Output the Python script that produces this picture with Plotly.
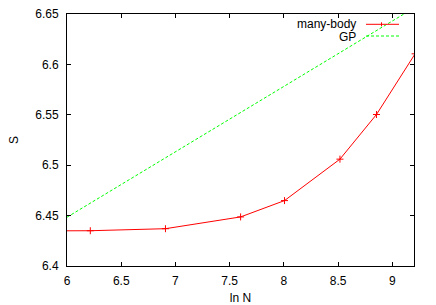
import plotly.graph_objects as go

# many-body data (ln N, S)
mb_lnN = [5.70, 6.215, 6.908, 7.601, 8.006, 8.517, 8.854, 9.210]
mb_S = [6.4348, 6.4350, 6.4370, 6.4487, 6.4649, 6.5060, 6.5503, 6.6105]

# GP data
gp_lnN = [6.0, 7.0, 8.0, 9.0, 9.3]
gp_S = [6.4484, 6.5135, 6.5785, 6.6430, 6.6625]

x_ticks = [6, 6.5, 7, 7.5, 8, 8.5, 9]
x_tick_text = ["6", "6.5", "7", "7.5", "8", "8.5", "9"]
y_ticks = [6.4, 6.45, 6.5, 6.55, 6.6, 6.65]
y_tick_text = ["6.4", "6.45", "6.5", "6.55", "6.6", "6.65"]

RED = "#ff0000"
GREEN = "#00ff00"
FONT = "Liberation Sans, Arial, sans-serif"

W, H = 436, 305
L, R, T, B = 67, 414, 14, 266  # plot area in window pixels

fig = go.Figure()
fig.add_trace(go.Scatter(
    x=gp_lnN, y=gp_S, mode="lines", name="GP",
    line=dict(color=GREEN, width=1, dash="3px,2px"),
))
fig.add_trace(go.Scatter(
    x=mb_lnN, y=mb_S, mode="lines+markers", name="many-body",
    line=dict(color=RED, width=1),
    marker=dict(symbol="cross-thin", size=5, color=RED, line=dict(color=RED, width=1)),
))

axis_common = dict(
    showgrid=False, zeroline=False, ticks="inside", ticklen=4, tickwidth=1,
    tickcolor="black", showline=True, linecolor="black", linewidth=1,
    mirror="allticks", tickfont=dict(family=FONT, size=12, color="black"),
    automargin=False, ticklabeloverflow="allow",
)
fig.update_xaxes(range=[6, 9.2], tickvals=x_ticks, ticktext=x_tick_text,
                 title=dict(text="ln N", font=dict(family=FONT, size=12, color="black"), standoff=8),
                 ticklabelstandoff=4, **axis_common)
fig.update_yaxes(range=[6.4, 6.65], tickvals=y_ticks, ticktext=y_tick_text,
                 title=dict(text="S", font=dict(family=FONT, size=12, color="black"), standoff=14),
                 ticklabelstandoff=5, **axis_common)

# gnuplot-style legend (text left, sample right)
def py(p):
    return (B - p) / float(B - T)

def px(p):
    return (p - L) / float(R - L)

annotations = [
    dict(text="many-body", x=px(358), y=py(24.5), xref="paper", yref="paper",
         xanchor="right", yanchor="middle", showarrow=False,
         font=dict(family=FONT, size=12, color="black")),
    dict(text="GP", x=px(358), y=py(36.5), xref="paper", yref="paper",
         xanchor="right", yanchor="middle", showarrow=False,
         font=dict(family=FONT, size=12, color="black")),
]
shapes = [
    dict(type="line", xref="paper", yref="paper", x0=px(366), x1=px(399), y0=py(24.3), y1=py(24.3),
         line=dict(color=RED, width=1)),
    dict(type="line", xref="paper", yref="paper", x0=px(381.5), x1=px(381.5), y0=py(22.3), y1=py(26.3),
         line=dict(color=RED, width=1)),
    dict(type="line", xref="paper", yref="paper", x0=px(366), x1=px(399), y0=py(36), y1=py(36),
         line=dict(color=GREEN, width=1, dash="3px,2px")),
]

fig.update_layout(
    width=W, height=H,
    margin=dict(l=L, r=W - R, t=T, b=H - B),
    paper_bgcolor="white", plot_bgcolor="white",
    showlegend=False,
    annotations=annotations, shapes=shapes,
    font=dict(family=FONT, size=12, color="black"),
)

# remove the default 8px body margin so the figure sits at the window's corner
fig.write_html("out.html", config={"displayModeBar": False},
               post_script="document.body.style.margin='0';")
